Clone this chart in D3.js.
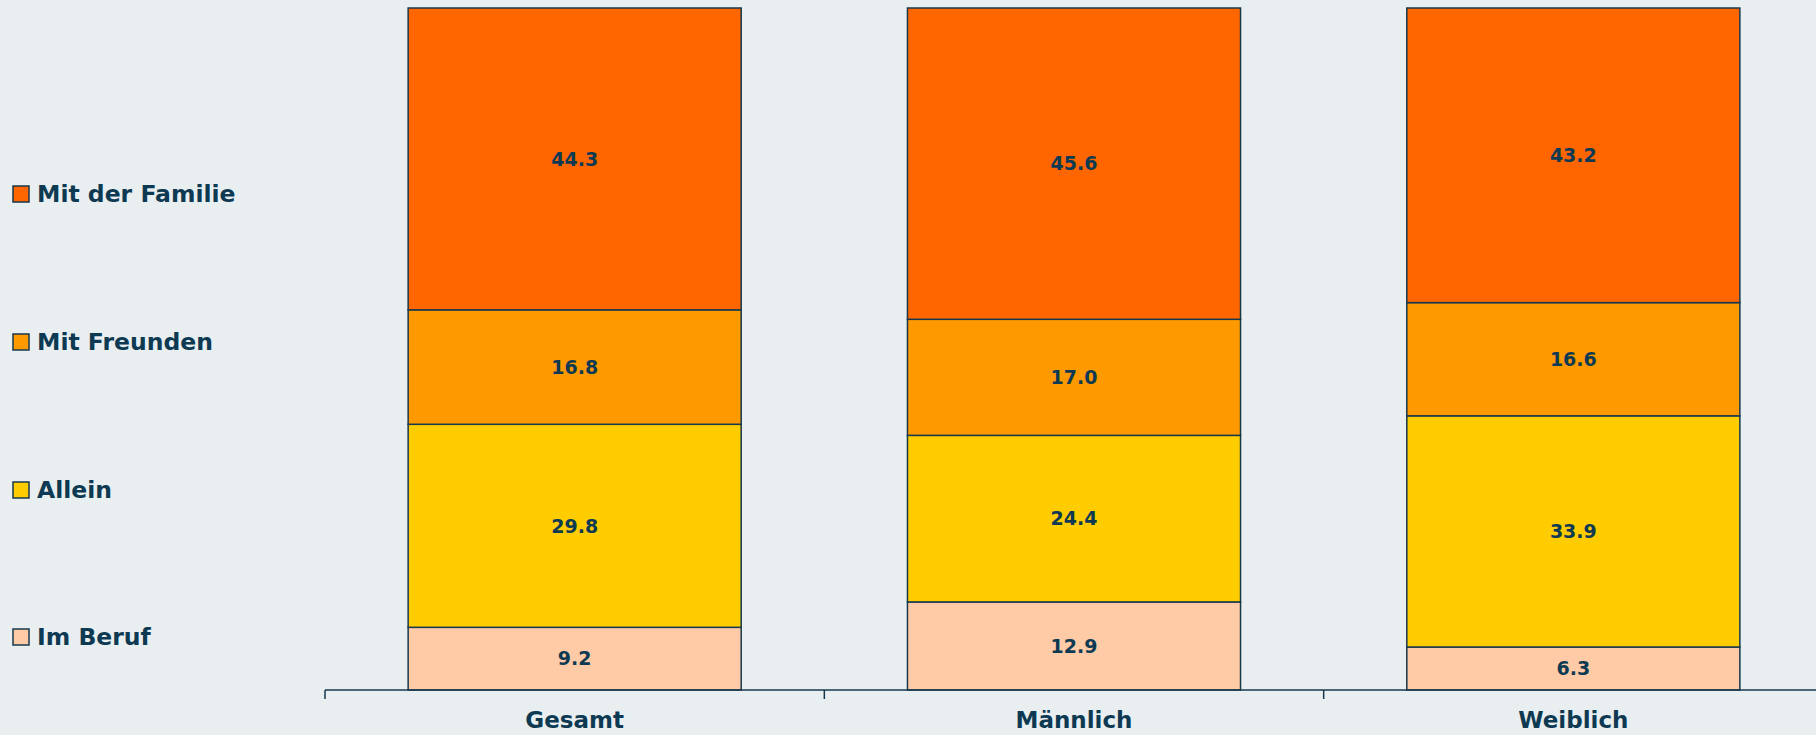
<!DOCTYPE html>
<html>
<head>
<meta charset="utf-8">
<script src="https://cdn.jsdelivr.net/npm/d3@7"></script>
<style>
  body { margin: 0; background: #e9eef0; }
  svg { display: block; }
  text { font-family: "DejaVu Sans", Verdana, sans-serif; font-weight: bold; fill: #0d3a52; }
</style>
</head>
<body>
<div id="chart"></div>
<script>
// data
var categories = ["Gesamt", "Männlich", "Weiblich"];
var series = ["Im Beruf", "Allein", "Mit Freunden", "Mit der Familie"];
var imBeruf = [9.2, 12.9, 6.3];
var allein = [29.8, 24.4, 33.9];
var mitFreunden = [16.8, 17.0, 16.6];
var mitFamilie = [44.3, 45.6, 43.2];
var colors = ["#fecba6", "#ffcc00", "#ff9900", "#ff6600"];

var width = 1816, height = 735;
var stroke = "#17384c";

var rows = categories.map(function (c, i) {
    return { cat: c, "Im Beruf": imBeruf[i], "Allein": allein[i], "Mit Freunden": mitFreunden[i], "Mit der Familie": mitFamilie[i] };
});

var stacked = d3.stack().keys(series).offset(d3.stackOffsetExpand)(rows);

var svg = d3.select("#chart").append("svg")
    .attr("width", width)
    .attr("height", height);

var x = d3.scaleBand()
    .domain(categories)
    .range([325, 1823])
    .paddingInner(0)
    .paddingOuter(0);

var y = d3.scaleLinear()
    .domain([0, 1])
    .range([690, 8]);

var barW = x.bandwidth() * 0.667;
var barOff = (x.bandwidth() - barW) / 2;

var layers = svg.selectAll("g.layer")
    .data(stacked)
    .enter()
    .append("g")
    .attr("class", "layer")
    .attr("fill", function (d, i) { return colors[i]; });

layers.selectAll("rect")
    .data(function (d) { return d; })
    .enter()
    .append("rect")
    .attr("x", function (d) { return x(d.data.cat) + barOff; })
    .attr("y", function (d) { return y(d[1]); })
    .attr("width", barW)
    .attr("height", function (d) { return y(d[0]) - y(d[1]); })
    .attr("stroke", stroke)
    .attr("stroke-width", 1.5);

// value labels
layers.each(function (layer) {
    d3.select(this).selectAll("text")
        .data(layer)
        .enter()
        .append("text")
        .attr("x", function (d) { return x(d.data.cat) + x.bandwidth() / 2; })
        .attr("y", function (d) { return (y(d[0]) + y(d[1])) / 2; })
        .attr("dy", "0.36em")
        .attr("text-anchor", "middle")
        .style("font-size", "19px")
        .text(function (d) { return d3.format(".1f")(d.data[layer.key]); });
});

// x axis
var axis = svg.append("g").attr("transform", "translate(0,690)");
axis.append("line")
    .attr("x1", 325).attr("x2", width)
    .attr("stroke", stroke).attr("stroke-width", 1.5);
axis.selectAll("line.tick")
    .data(categories)
    .enter()
    .append("line")
    .attr("class", "tick")
    .attr("x1", function (d) { return x(d); })
    .attr("x2", function (d) { return x(d); })
    .attr("y1", 0).attr("y2", 9)
    .attr("stroke", stroke).attr("stroke-width", 1.5);
axis.selectAll("text")
    .data(categories)
    .enter()
    .append("text")
    .attr("x", function (d) { return x(d) + x.bandwidth() / 2; })
    .attr("y", 30)
    .attr("dy", "0.36em")
    .attr("text-anchor", "middle")
    .style("font-size", "23px")
    .text(function (d) { return d; });

// legend (top to bottom: Familie ... Beruf)
var legendY = [194, 342, 490, 637];
var legend = svg.selectAll("g.legend")
    .data(series.slice().reverse())
    .enter()
    .append("g")
    .attr("class", "legend")
    .attr("transform", function (d, i) { return "translate(13," + legendY[i] + ")"; });
legend.append("rect")
    .attr("x", 0).attr("y", -8)
    .attr("width", 16).attr("height", 16)
    .attr("fill", function (d) { return colors[series.indexOf(d)]; })
    .attr("stroke", stroke).attr("stroke-width", 1.5);
legend.append("text")
    .attr("x", 24)
    .attr("dy", "0.36em")
    .style("font-size", "23.5px")
    .text(function (d) { return d; });
</script>
</body>
</html>
